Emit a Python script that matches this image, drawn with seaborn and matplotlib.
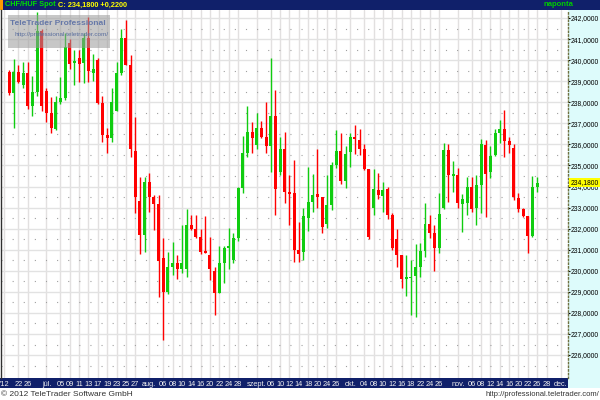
import matplotlib
matplotlib.use("Agg")
import matplotlib.pyplot as plt
from matplotlib.patches import Rectangle
import matplotlib.transforms as mtransforms
import numpy as np
import pandas as pd
import seaborn as sns

# ---------------- data ----------------
opens = [239.43, 238.43, 239.43, 238.8, 239.4, 237.8, 238.5, 241.4, 238.55, 237.5,
         236.75, 238.0, 238.2, 240.8, 239.85, 240.1, 239.85, 241.05, 239.4, 240.0,
         237.95, 236.45, 236.3, 237.6, 239.4, 241.05, 239.75, 235.7, 233.3, 231.7,
         234.2, 233.5, 233.15, 230.6, 229.0, 230.2, 230.35, 230.1, 230.1, 232.15,
         232.0, 231.6, 230.9, 230.75, 230.0, 228.95, 230.35, 231.1, 230.5, 231.55,
         233.95, 235.6, 236.6, 235.95, 236.8, 236.35, 235.9, 237.35, 234.7, 235.8,
         233.7, 233.7, 231.0, 230.9, 232.5, 233.25, 233.65, 233.5, 232.2, 233.1,
         235.0, 235.7, 234.25, 235.65, 236.35, 236.2, 235.8, 234.85, 233.0, 233.85,
         233.55, 233.9, 232.65, 231.5, 230.75, 229.6, 229.65, 229.75, 230.2, 230.95,
         232.2, 231.8, 231.1, 233.0, 235.75, 234.5, 234.55, 233.15, 233.2, 234.0,
         233.0, 234.05, 235.95, 234.7, 235.5, 236.55, 236.75, 236.15, 235.85, 233.45,
         232.95, 232.6, 231.65, 233.96]
highs = [239.55, 240.05, 239.75, 239.9, 239.9, 239.25, 242.3, 241.5, 238.7, 238.25,
         238.3, 239.2, 241.3, 241.0, 240.5, 240.5, 241.3, 242.05, 240.3, 240.1,
         238.3, 236.8, 238.7, 239.9, 241.5, 241.9, 240.25, 237.3, 234.45, 234.45,
         234.65, 233.6, 233.6, 231.55, 230.9, 231.35, 230.75, 232.15, 232.95, 232.65,
         232.65, 232.0, 232.6, 231.6, 230.2, 231.2, 231.2, 232.05, 231.8, 234.0,
         236.4, 237.8, 237.05, 237.5, 237.1, 238.0, 240.1, 238.6, 236.35, 236.6,
         234.55, 235.25, 232.3, 233.0, 234.95, 234.6, 235.8, 233.5, 234.55, 235.15,
         236.7, 236.55, 235.9, 236.55, 236.9, 236.75, 236.0, 234.85, 234.85, 234.65,
         234.2, 234.0, 232.75, 232.0, 230.75, 230.75, 230.5, 231.25, 231.3, 233.2,
         232.65, 232.15, 233.7, 236.05, 236.0, 235.2, 234.9, 233.65, 234.45, 234.45,
         234.55, 236.25, 236.2, 235.9, 236.75, 237.15, 237.65, 236.35, 236.0, 233.7,
         233.0, 232.6, 234.5, 234.45]
lows = [238.35, 236.8, 238.9, 238.7, 237.7, 237.35, 238.3, 237.6, 237.05, 236.55,
        236.7, 237.9, 238.1, 239.6, 238.8, 238.95, 238.9, 238.95, 239.0, 237.9,
        236.1, 235.6, 236.1, 237.6, 239.3, 239.75, 235.4, 232.75, 230.8, 230.9,
        232.8, 231.95, 228.75, 226.7, 228.9, 229.8, 229.6, 229.9, 229.7, 231.95,
        231.55, 230.8, 230.85, 229.55, 227.9, 228.95, 229.4, 230.1, 230.35, 231.4,
        233.7, 235.4, 235.6, 235.8, 236.3, 235.6, 234.7, 232.65, 234.55, 233.2,
        232.15, 230.4, 230.4, 230.5, 231.9, 232.8, 233.0, 231.8, 232.05, 232.9,
        234.9, 234.1, 233.95, 234.95, 235.55, 235.5, 234.8, 231.5, 232.65, 233.4,
        232.8, 232.45, 231.0, 230.2, 229.2, 228.8, 227.9, 227.8, 229.7, 230.65,
        231.55, 230.0, 230.85, 232.95, 233.25, 233.75, 233.0, 231.85, 232.65, 232.8,
        232.15, 232.75, 232.55, 234.4, 235.45, 236.05, 235.4, 235.6, 233.35, 232.8,
        232.55, 230.85, 231.6, 233.75]
closes = [238.43, 239.43, 238.95, 239.4, 237.8, 238.5, 241.4, 237.8, 237.5, 236.8,
          238.0, 238.2, 240.6, 239.8, 239.95, 239.8, 241.05, 239.5, 239.6, 237.95,
          236.45, 236.3, 238.0, 239.4, 241.05, 239.75, 235.8, 233.5, 231.7, 234.2,
          233.5, 233.15, 230.45, 229.0, 230.2, 230.35, 230.1, 230.35, 232.15, 232.0,
          231.6, 230.9, 230.85, 230.1, 228.95, 230.35, 231.1, 231.2, 231.55, 233.95,
          235.6, 236.6, 236.3, 236.8, 236.35, 235.9, 237.35, 233.9, 235.8, 233.75,
          233.65, 231.0, 230.8, 232.6, 233.25, 233.6, 233.5, 232.1, 233.1, 235.0,
          235.7, 234.25, 235.55, 236.35, 236.25, 235.8, 234.85, 231.6, 233.9, 233.6,
          233.85, 232.65, 231.1, 230.75, 229.6, 229.7, 229.7, 230.2, 230.95, 232.2,
          231.8, 231.1, 232.7, 235.75, 234.55, 234.6, 233.2, 233.4, 234.0, 232.95,
          234.05, 236.0, 234.6, 235.45, 236.55, 236.75, 236.15, 235.95, 233.5, 232.95,
          232.6, 231.65, 233.96, 234.18]
first_day = "2012-06-20"
tick_dates = ["2012-06-19", "2012-06-22", "2012-06-26", "2012-07-02", "2012-07-05",
              "2012-07-09", "2012-07-11", "2012-07-13", "2012-07-17", "2012-07-19",
              "2012-07-23", "2012-07-25", "2012-07-27", "2012-08-01", "2012-08-06",
              "2012-08-08", "2012-08-10", "2012-08-14", "2012-08-16", "2012-08-20",
              "2012-08-22", "2012-08-24", "2012-08-28", "2012-09-03", "2012-09-06",
              "2012-09-10", "2012-09-12", "2012-09-14", "2012-09-18", "2012-09-20",
              "2012-09-24", "2012-09-26", "2012-10-01", "2012-10-04", "2012-10-08",
              "2012-10-10", "2012-10-12", "2012-10-16", "2012-10-18", "2012-10-22",
              "2012-10-24", "2012-10-26", "2012-11-01", "2012-11-06", "2012-11-08",
              "2012-11-12", "2012-11-14", "2012-11-16", "2012-11-20", "2012-11-22",
              "2012-11-26", "2012-11-28", "2012-12-03"]
tick_labels = ["'12", "22", "26", "júl.", "05", "09", "11", "13", "17", "19", "23", "25",
               "27", "aug.", "06", "08", "10", "14", "16", "20", "22", "24", "28",
               "szept.", "06", "10", "12", "14", "18", "20", "24", "26", "okt.", "04",
               "08", "10", "12", "16", "18", "22", "24", "26", "nov.", "06", "08", "12",
               "14", "16", "20", "22", "26", "28", "dec."]
y_ticks = [226, 227, 228, 229, 230, 231, 232, 233, 234, 235, 236, 237, 238, 239, 240, 241, 242]
symbol = "CHF/HUF Spot"
period_label = "naponta"

# ---------------- style ----------------
sns.set_style("white")
plt.rcParams["font.family"] = ["Liberation Sans", "DejaVu Sans"]

NAVY = "#10206A"
RED = "#FF0000"
GREEN = "#10CC10"

fig = plt.figure(figsize=(6, 4), dpi=100)
fig.patch.set_facecolor("white")
ax = fig.add_axes([0.0017, 0.055, 0.945, 0.92])

o = np.array(opens); h = np.array(highs); l = np.array(lows); c = np.array(closes)
idx = np.arange(len(o))
cols = [GREEN if cc >= oo else RED for oo, cc in zip(o, c)]

# x mapping via business days
days = pd.bdate_range("2012-06-19", "2012-12-31")
base = days.get_loc(pd.Timestamp(first_day))
tick_pos = [days.get_loc(pd.Timestamp(d)) - base for d in tick_dates]

ax.set_xlim(-1.71, 119.6)
ax.set_ylim(224.91, 242.38)

# grid
for tp in tick_pos:
    ax.axvline(tp, color="#E2E0E0", lw=1.0, zorder=0)
for yv in y_ticks:
    ax.axhline(yv, color="#E2E2E2", lw=1.0, zorder=0)
for yv in np.arange(224.5, 242.5, 1.0):
    ax.axhline(yv, color="#A0A0A0", lw=0.8, ls=(0, (1, 9)), zorder=0)

# candles
ax.vlines(idx, l, h, colors=cols, lw=1.0, zorder=2)
body_bottom = np.minimum(o, c)
body_h = np.maximum(np.abs(c - o), 0.07)
ax.bar(idx, body_h, bottom=body_bottom, width=0.64, color=cols, edgecolor="none", zorder=3)

# axes styling
ax.set_xticks(tick_pos)
ax.set_xticklabels(tick_labels)
ax.tick_params(axis="x", length=0, pad=2.2, labelsize=5.3, colors="#F0F0F0")
ax.yaxis.tick_right()
ax.set_yticks(y_ticks)
ax.set_yticklabels([f"{v:.4f}".replace(".", ",") for v in y_ticks])
ax.tick_params(axis="y", length=1.5, width=0.8, pad=0.3, labelsize=4.9, colors="black",
               direction="out")
for s in ["top", "bottom"]:
    ax.spines[s].set_visible(False)
ax.spines["left"].set_color("#303030")
ax.spines["left"].set_linewidth(1.0)
ax.spines["right"].set_color("#707040")
ax.spines["right"].set_linestyle(":")
ax.spines["right"].set_linewidth(1.0)
ax.set_facecolor("white")

# right panel background
fig.patches.append(Rectangle((0.947, 0.03), 0.053, 0.945, transform=fig.transFigure,
                             facecolor="#DDFBFB", edgecolor="none", zorder=-10))
# header bar
fig.patches.append(Rectangle((0, 0.975), 1, 0.025, transform=fig.transFigure,
                             facecolor=NAVY, edgecolor="none", zorder=-5))
fig.patches.append(Rectangle((0, 0.975), 0.005, 0.025, transform=fig.transFigure,
                             facecolor="#FF9900", edgecolor="none", zorder=-4))
# bottom date bar
fig.patches.append(Rectangle((0, 0.03), 0.947, 0.025, transform=fig.transFigure,
                             facecolor=NAVY, edgecolor="none", zorder=-5))

# header text
change = closes[-1] - closes[-2]
fig.text(0.009, 0.9875, symbol, color="#00E000", fontsize=5.3, fontweight="bold",
         va="center", ha="left")
fig.text(0.097, 0.9875,
         "C: " + f"{closes[-1]:.4f}".replace(".", ",") + " " + f"{change:+.4f}".replace(".", ","),
         color="#FFFF00", fontsize=5.3, fontweight="bold", va="center", ha="left")
fig.text(0.905, 0.9875, period_label, color="#00CC00", fontsize=5.5, fontweight="bold",
         va="center", ha="left")

# current price marker
trans = mtransforms.blended_transform_factory(ax.transAxes, ax.transData)
ax.text(1.004, closes[-1], f"{closes[-1]:.4f}".replace(".", ","), transform=trans,
        fontsize=4.9, color="black", va="center", ha="left", zorder=10,
        bbox=dict(boxstyle="square,pad=0.15", facecolor="#FFFF00", edgecolor="none"))

# watermark
fig.patches.append(Rectangle((0.0133, 0.88), 0.17, 0.0825, transform=fig.transFigure,
                             facecolor="#9A9A9A", edgecolor="none", alpha=0.55, zorder=20))
fig.text(0.097, 0.942, "TeleTrader Professional", color="#6678A8", fontsize=6.0,
         fontweight="bold", ha="center", va="center", zorder=21)
fig.text(0.103, 0.913, "http://professional.teletrader.com/", color="#5A6E9E", fontsize=4.6,
         ha="center", va="center", zorder=21)

# footer
fig.text(0.002, 0.015, "© 2012 TeleTrader Software GmbH", color="#333333", fontsize=6,
         ha="left", va="center")
fig.text(0.998, 0.013, "http://professional.teletrader.com/", color="#333333", fontsize=5.5,
         ha="right", va="center")

fig.savefig("out.png", dpi=100)
